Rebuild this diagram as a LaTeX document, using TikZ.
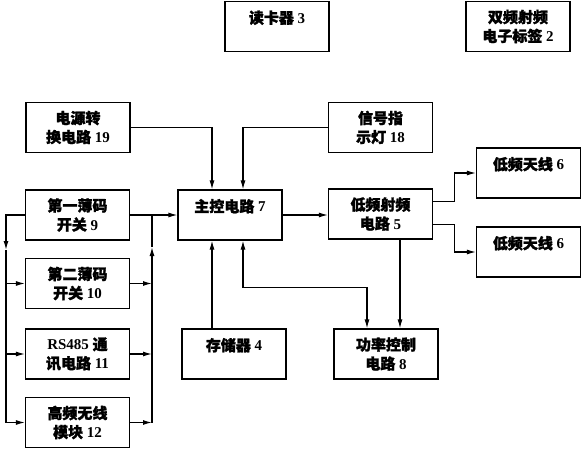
\documentclass[tikz,border=0pt]{standalone}
\usepackage{fontspec}
\setmainfont{Liberation Serif}
\newfontfamily\zhfont[FakeBold=1.6]{Noto Sans CJK SC}
\newcommand{\zh}[1]{{\zhfont #1}}
\usetikzlibrary{arrows.meta,positioning,calc}

\begin{document}
\begin{tikzpicture}[x=1pt,y=-1pt,
    box/.style={draw,line width=1.2pt,minimum width=104pt,minimum height=50pt,inner sep=0pt,align=center,
      font=\fontsize{15pt}{19pt}\selectfont\bfseries},
    >={Latex[length=9pt,width=5pt]}, line width=1.2pt]
    \useasboundingbox (0,0) rectangle (582,450);
    \node[box] (rdr) at (277,26.5) {\zh{读卡器} 3\\\mbox{}};
    \node[box] (tag) at (518,26.5) {\zh{双频射频}\\\zh{电子标签} 2};
    \node[box] (pwr) at (78,127.5) {\zh{电源转}\\\zh{换电路} 19};
    \node[box] (led) at (380.5,127.5) {\zh{信号指}\\\zh{示灯} 18};
    \node[box] (sw1) at (77.5,215) {\zh{第一薄码}\\\zh{开关} 9};
    \node[box] (sw2) at (77.5,283.5) {\zh{第二薄码}\\\zh{开关} 10};
    \node[box] (rs) at (77.5,354) {RS485 \zh{通}\\\zh{讯电路} 11};
    \node[box] (hf) at (77.5,422.5) {\zh{高频无线}\\\zh{模块} 12};
    \node[box] (mcu) at (230,215) {\zh{主控电路} 7\\\mbox{}};
    \node[box] (mem) at (234,354) {\zh{存储器} 4\\\mbox{}};
    \node[box] (pc) at (386,354) {\zh{功率控制}\\\zh{电路} 8};
    \node[box] (lf) at (380.5,214) {\zh{低频射频}\\\zh{电路} 5};
    \node[box] (ant1) at (528.5,173) {\zh{低频天线} 6\\\mbox{}};
    \node[box] (ant2) at (528.5,252) {\zh{低频天线} 6\\\mbox{}};
    % buses on the left
    \coordinate (lb) at (6,250);
    \coordinate (rb) at (152,247);
    \draw[->] (sw1.west) -| (lb);
    \draw[->] (lb) |- (hf.west);
    \draw[->] (sw2.west -| lb) -- (sw2.west);
    \draw[->] (rs.west -| lb) -- (rs.west);
    \draw[->] (sw2.east) -- (sw2.east -| rb);
    \draw[->] (rs.east) -- (rs.east -| rb);
    \draw[->] (hf.east) -- (hf.east -| rb);
    \draw[->] (hf.east -| rb) -- (rb);
    \draw (rb) -- (rb |- sw1.east);
    \draw[->] (sw1.east) -- (mcu.west);
    % into the main circuit
    \coordinate (m1) at ([xshift=-18pt]mcu.north);
    \coordinate (m2) at ([xshift=13pt]mcu.north);
    \coordinate (m3) at ([xshift=-18pt]mcu.south);
    \coordinate (m4) at ([xshift=13pt]mcu.south);
    \coordinate (p1) at ([xshift=-19pt]pc.north);
    \coordinate (l1) at ([xshift=19.5pt]lf.south);
    \draw[->] (pwr.east) -| (m1);
    \draw[->] (led.west) -| (m2);
    \draw[->] (mem.north -| m3) -- (m3);
    \draw[<->] (m4) -- ++(0,47) -| (p1);
    \draw[->] (mcu.east) -- (mcu.east -| lf.west);
    \draw[->] (l1) -- (l1 |- pc.north);
    \draw[->] ([yshift=12.5pt]lf.east) -- ++(21,0) |- (ant1.west);
    \draw[->] ([yshift=-10.5pt]lf.east) -- ++(21,0) |- (ant2.west);
\end{tikzpicture}
\end{document}
